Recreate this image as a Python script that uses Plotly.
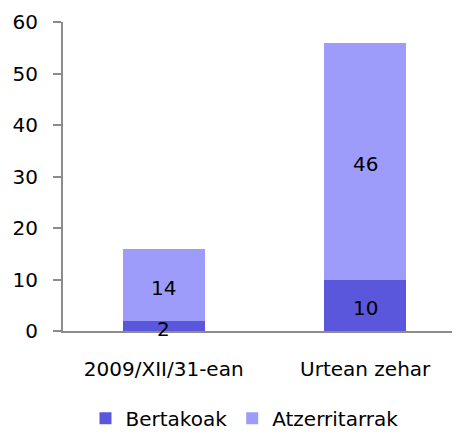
import plotly.graph_objects as go

categories = ["2009/XII/31-ean", "Urtean zehar"]
bertakoak = [2, 10]
atzerritarrak = [14, 46]
y_ticks = [0, 10, 20, 30, 40, 50, 60]

FONT = "DejaVu Sans"
FS = 20
AXIS = "#8c8c8c"

fig = go.Figure()
fig.add_trace(go.Bar(
    name="Bertakoak", x=categories, y=bertakoak,
    marker=dict(color="#5a57dc", line=dict(width=0)),
))
fig.add_trace(go.Bar(
    name="Atzerritarrak", x=categories, y=atzerritarrak,
    marker=dict(color="#9e9cfb", line=dict(width=0)),
))

# value labels centred in each stacked segment
for cat, b, a in zip(categories, bertakoak, atzerritarrak):
    for val, mid in ((b, b / 2), (a, b + a / 2)):
        fig.add_annotation(x=cat, y=mid, text=str(val), showarrow=False,
                           font=dict(family=FONT, size=FS, color="black"),
                           xanchor="center", yanchor="middle", yshift=-3)

# page body has an 8px default margin, so the figure is 8px smaller
fig.update_layout(
    width=452, height=427,
    barmode="stack", bargap=0.594,
    paper_bgcolor="white", plot_bgcolor="white",
    font=dict(family=FONT, size=FS, color="black"),
    margin=dict(l=55, r=5, t=14, b=104, autoexpand=False),
    showlegend=True,
    legend=dict(orientation="h", x=0.463, xanchor="center", y=-0.282, yanchor="middle",
                font=dict(size=FS, family=FONT), traceorder="normal"),
    xaxis=dict(range=[-0.5, 1.446], showline=True, linecolor=AXIS, linewidth=2,
               ticks="", showgrid=False, zeroline=False, ticklabelstandoff=19,
               automargin=False),
    yaxis=dict(range=[0, 60], tickvals=y_ticks, showline=True, linecolor=AXIS, linewidth=2,
               ticks="outside", ticklen=8, tickwidth=2, tickcolor=AXIS,
               showgrid=False, zeroline=False, ticklabelstandoff=11, automargin=False),
)

fig.write_html("out.html")
